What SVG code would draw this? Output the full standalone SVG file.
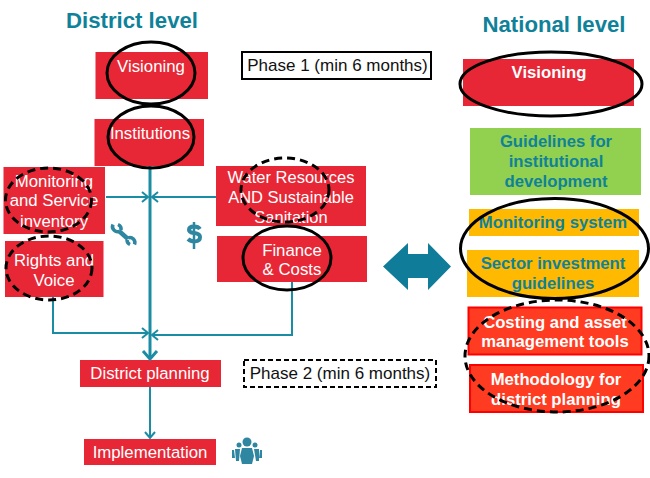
<svg xmlns="http://www.w3.org/2000/svg" width="650" height="478" viewBox="0 0 650 478">
<style>
text{font-family:"Liberation Sans",Arial,sans-serif;text-anchor:middle}
.r{fill:#e72736}
.t{fill:#fff;font-size:16.800px}
.h{fill:#0f8299;font-size:22.200px;font-weight:bold}
.b{fill:#0f8299;font-size:16.700px;font-weight:bold}
.w{fill:#fff;font-size:16.700px;font-weight:bold}
.o{fill:#ffb900}
.g{fill:#92d050}
.c{fill:#ff3b22;stroke:#ff0000;stroke-width:2}
.e{fill:none;stroke:#000;stroke-width:3}
.d{fill:none;stroke:#000;stroke-width:3;stroke-dasharray:8 5}
.l{fill:none;stroke:#1a8ca3;stroke-width:2}
.i{fill:#2f86a0}
</style>
<defs>
<marker id="a" markerWidth="12" markerHeight="12" refX="9" refY="6" orient="auto" markerUnits="userSpaceOnUse"><path d="M3 1 9 6 3 11" fill="none" stroke="#1a8ca3" stroke-width="2"/></marker>
<marker id="m" markerWidth="18" markerHeight="18" refX="14" refY="9" orient="auto" markerUnits="userSpaceOnUse"><path d="M6 2 14 9 6 16" fill="none" stroke="#1a8ca3" stroke-width="3"/></marker>
</defs>
<rect width="650" height="478" fill="#fff"/>
<g id="titles">
<text class="h" x="132" y="28">District level</text>
<text class="h" x="554" y="32">National level</text>
</g>
<g id="n-visioning"><rect class="r" x="95.500" y="52" width="112.500" height="47"/><text class="t" x="151" y="72">Visioning</text></g>
<g id="n-institutions"><rect class="r" x="94.500" y="119" width="109.500" height="47"/><text class="t" x="150" y="139">Institutions</text></g>
<g id="n-monitoring"><rect class="r" x="3.500" y="167" width="101.500" height="67"/><text class="t"><tspan x="54" y="187">Monitoring</tspan><tspan x="54" y="206">and Service</tspan><tspan x="54" y="227">inventory</tspan></text></g>
<g id="n-rights"><rect class="r" x="5" y="241" width="98.500" height="56"/><text class="t"><tspan x="54" y="266">Rights and</tspan><tspan x="54" y="286">Voice</tspan></text></g>
<g id="n-water"><rect class="r" x="216" y="166" width="150" height="60"/><text class="t" style="font-size:16.500px"><tspan x="291" y="183">Water Resources</tspan><tspan x="291" y="203">AND Sustainable</tspan><tspan x="291" y="223">Sanitation</tspan></text></g>
<g id="n-finance"><rect class="r" x="217" y="236" width="150" height="46"/><text class="t"><tspan x="292" y="256">Finance</tspan><tspan x="292" y="275">&amp; Costs</tspan></text></g>
<g id="n-planning"><rect class="r" x="80" y="360" width="141" height="27"/><text class="t" x="150" y="379">District planning</text></g>
<g id="n-implementation"><rect class="r" x="84" y="439" width="132" height="26"/><text class="t" x="150" y="458">Implementation</text></g>
<g id="connectors">
<path class="l" style="stroke-width:3" d="M150 166V359" marker-end="url(#m)"/>
<path class="l" d="M106 197H148" marker-end="url(#a)"/>
<path class="l" d="M216 197H152" marker-end="url(#a)"/>
<path class="l" d="M53 297V333H148" marker-end="url(#a)"/>
<path class="l" d="M292 282V335H152" marker-end="url(#a)"/>
<path class="l" d="M150 387V438" marker-end="url(#a)"/>
</g>
<g id="ellipses">
<ellipse class="e" cx="151" cy="73" rx="44" ry="31"/>
<ellipse class="e" cx="151" cy="137" rx="43" ry="31"/>
<ellipse class="d" cx="48.500" cy="200" rx="43" ry="32"/>
<ellipse class="d" cx="49" cy="268" rx="43" ry="32"/>
<ellipse class="d" cx="285" cy="190" rx="44" ry="32"/>
<ellipse class="e" cx="287" cy="258" rx="44" ry="32"/>
</g>
<g id="phase1"><rect x="242" y="52" width="189" height="27" fill="#fff" stroke="#000" stroke-width="2"/><text x="337.500" y="71" font-size="17" fill="#111">Phase 1 (min 6 months)</text></g>
<g id="phase2"><rect x="244" y="360" width="192" height="27" fill="#fff" stroke="#000" stroke-width="2" stroke-dasharray="5 3"/><text x="340" y="379" font-size="17" fill="#111">Phase 2 (min 6 months)</text></g>
<g id="icon-wrench" fill="none" stroke="#2f86a0"><path stroke-width="4.500" d="M119 231 128 239"/><path stroke-width="3.500" d="M113 224.500a5 5 0 0 0 7 6.500M121 230a5 5 0 0 0-3-5.500M134.500 244.500a5 5 0 0 0-6.500-6.500M127 240a5 5 0 0 0 3 4.500"/></g>
<g id="icon-dollar"><path fill="none" stroke="#2f86a0" stroke-width="4" d="M200 229c-2-3-11-4-11 1 0 5 11 1 11 7 0 6-9 5-12 2"/><path fill="none" stroke="#2f86a0" stroke-width="2.500" d="M194 222V249"/></g>
<g id="icon-people" class="i"><circle cx="247" cy="442" r="4.500"/><path d="M242 448h10l2 8-2 8h-10l-2-8z"/><circle cx="239" cy="445" r="2.500"/><path d="M235 449h5l-1 12h-3zM232 450h2l1 8h-3z"/><circle cx="255" cy="445" r="2.500"/><path d="M254 449h5v12h-3zM260 450h2v8h-3z"/></g>
<g id="double-arrow"><path style="fill:#0f7d99" d="M383 266.500 408 243V254H428V243L451 266.500 428 290V278H408V290z"/></g>
<g id="n-nat-visioning"><rect class="r" x="463" y="59" width="171" height="47"/><text class="w" x="549" y="78">Visioning</text></g>
<g id="n-guidelines"><rect class="g" x="470" y="128" width="171" height="67"/><text class="b"><tspan x="556" y="147">Guidelines for</tspan><tspan x="556" y="167">institutional</tspan><tspan x="556" y="187">development</tspan></text></g>
<g id="n-monsystem"><rect class="o" x="469" y="209" width="170" height="27"/><text class="b" x="553" y="228">Monitoring system</text></g>
<g id="n-sector"><rect class="o" x="467" y="250" width="172" height="47"/><text class="b"><tspan x="553" y="269">Sector investment</tspan><tspan x="553" y="289">guidelines</tspan></text></g>
<g id="n-costing"><rect class="c" x="468.500" y="307.500" width="173" height="47"/><text class="w"><tspan x="555" y="328">Costing and asset</tspan><tspan x="555" y="347">management tools</tspan></text></g>
<g id="n-method"><rect class="c" x="470" y="365" width="173" height="47"/><text class="w"><tspan x="556" y="385">Methodology for</tspan><tspan x="556" y="405">district planning</tspan></text></g>
<g id="nat-ellipses">
<ellipse class="e" cx="551" cy="84" rx="91" ry="32"/>
<ellipse class="e" cx="554.500" cy="248.500" rx="94" ry="50"/>
<ellipse class="d" cx="557" cy="356" rx="92" ry="56"/>
</g>
</svg>
